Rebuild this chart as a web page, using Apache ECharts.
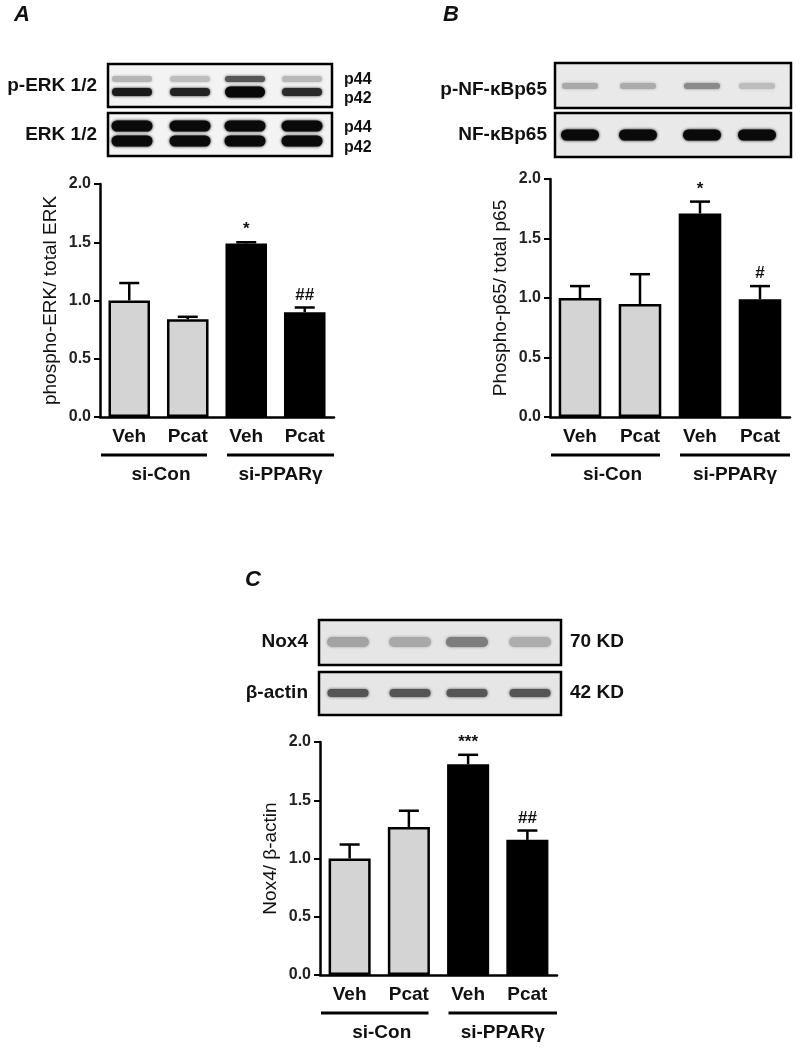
<!DOCTYPE html>
<html>
<head>
<meta charset="utf-8">
<script src="https://cdn.jsdelivr.net/npm/echarts@6/dist/echarts.min.js"></script>
<style>
html,body{margin:0;padding:0;background:#fff;}
#chart{width:800px;height:1049px;}
</style>
</head>
<body>
<div id="chart"></div>
<script>
// ---- data ----
const categories = ['Veh', 'Pcat', 'Veh', 'Pcat'];
const groups = ['si-Con', 'si-PPARγ'];

const erkMean = [1.0, 0.84, 1.49, 0.90];
const erkErr = [0.15, 0.02, 0.01, 0.04];
const erkSig = ['', '', '*', '##'];

const p65Mean = [1.0, 0.95, 1.71, 0.99];
const p65Err = [0.10, 0.25, 0.10, 0.11];
const p65Sig = ['', '', '*', '#'];

const noxMean = [1.0, 1.27, 1.81, 1.16];
const noxErr = [0.12, 0.14, 0.08, 0.08];
const noxSig = ['', '', '***', '##'];

const barColors = ['#d4d4d4', '#d4d4d4', '#000', '#000'];
const FONT = '"Liberation Sans", Arial, Helvetica, sans-serif';

const panels = [
  {grid: {left: 100, top: 184, width: 234, height: 233}, name: 'phospho-ERK/ total ERK', mean: erkMean, err: erkErr, sig: erkSig},
  {grid: {left: 550, top: 179, width: 240, height: 238}, name: 'Phospho-p65/ total p65', mean: p65Mean, err: p65Err, sig: p65Sig},
  {grid: {left: 320, top: 742, width: 237, height: 233}, name: 'Nox4/ β-actin', mean: noxMean, err: noxErr, sig: noxSig}
];

const chart = echarts.init(document.getElementById('chart'));

const grid = [], xAxis = [], yAxis = [], series = [];
panels.forEach((p, i) => {
  grid.push(p.grid);
  xAxis.push({
    type: 'category', gridIndex: i, data: categories,
    axisLine: {lineStyle: {color: '#000', width: 2.5}},
    axisTick: {alignWithLabel: true, length: 6, lineStyle: {color: '#000', width: 2}},
    axisLabel: {interval: 0, margin: 10, fontSize: 19, fontWeight: 'bold', color: '#111', fontFamily: FONT}
  });
  yAxis.push({
    type: 'value', gridIndex: i, min: 0, max: 2, interval: 0.5,
    name: p.name, nameLocation: 'middle', nameGap: 40,
    nameTextStyle: {fontSize: 19, color: '#111', fontFamily: FONT},
    axisLine: {show: true, lineStyle: {color: '#000', width: 2.5}},
    axisTick: {show: true, length: 6, lineStyle: {color: '#000', width: 2}},
    splitLine: {show: false},
    axisLabel: {margin: 9, fontSize: 16, fontWeight: 'bold', color: '#222', fontFamily: FONT,
      formatter: v => v.toFixed(1)}
  });
  series.push({
    type: 'bar', xAxisIndex: i, yAxisIndex: i, barWidth: '71%', silent: true,
    itemStyle: {borderColor: '#000', borderWidth: 2.5},
    data: p.mean.map((v, j) => ({value: v, itemStyle: {color: barColors[j]}}))
  });
  series.push({
    type: 'custom', xAxisIndex: i, yAxisIndex: i, silent: true, z: 5,
    encode: {x: 0, y: 1},
    data: p.mean.map((v, j) => [j, v + p.err[j], v]),
    renderItem: (params, api) => {
      const top = api.coord([api.value(0), api.value(1)]);
      const base = api.coord([api.value(0), api.value(2)]);
      const s = p.sig[params.dataIndex];
      return {
        type: 'group',
        children: [
          {type: 'line', shape: {x1: top[0], y1: base[1], x2: top[0], y2: top[1]}, style: {stroke: '#000', lineWidth: 2.5}},
          {type: 'line', shape: {x1: top[0] - 10, y1: top[1], x2: top[0] + 10, y2: top[1]}, style: {stroke: '#000', lineWidth: 2.5}},
          {type: 'text', style: {text: s, x: top[0], y: top[1] - 4, textAlign: 'center', textVerticalAlign: 'bottom',
            font: 'bold 17px ' + FONT, fill: '#111'}}
        ]
      };
    }
  });
});

chart.setOption({
  animation: false,
  backgroundColor: '#fff',
  textStyle: {fontFamily: FONT},
  grid, xAxis, yAxis, series
});

// ---- blots & annotations ----
const els = [];
function text(t, x, y, size, align, extra) {
  els.push({type: 'text', silent: true, style: Object.assign({text: t, x, y, font: 'bold ' + size + 'px ' + FONT,
    fill: '#111', textAlign: align, textVerticalAlign: 'middle'}, extra || {})});
}
function box(x, y, w, h, bg) {
  els.push({type: 'rect', silent: true, shape: {x, y, width: w, height: h}, style: {fill: bg, stroke: '#000', lineWidth: 2.5}});
}
function band(cx, cy, w, h, color) {
  els.push({type: 'rect', silent: true, shape: {x: cx - w / 2, y: cy - h / 2, width: w, height: h, r: h / 2},
    style: {fill: color, shadowBlur: 3, shadowColor: color}});
}

// panel letters
text('A', 22, 15, 22, 'center', {font: 'italic bold 22px ' + FONT});
text('B', 451, 15, 22, 'center', {font: 'italic bold 22px ' + FONT});
text('C', 253, 580, 22, 'center', {font: 'italic bold 22px ' + FONT});

// blot A
box(108, 64, 224, 43, '#f3f3f3');
box(108, 113, 224, 43, '#f3f3f3');
const laneA = [132, 190, 245, 302];
const p44A = ['#b5b5b5', '#bdbdbd', '#555', '#b8b8b8'];
const p42A = ['#1a1a1a', '#222', '#080808', '#2a2a2a'];
laneA.forEach((x, j) => {
  band(x, 79, 40, 6, p44A[j]);
  band(x, 92, 40, j === 2 ? 11 : 8, p42A[j]);
  band(x, 126, 41, 11, '#0a0a0a');
  band(x, 141, 41, 11, '#0a0a0a');
});
text('p-ERK 1/2', 97, 86, 19, 'right');
text('ERK 1/2', 97, 135, 19, 'right');
text('p44', 344, 80, 16, 'left');
text('p42', 344, 99, 16, 'left');
text('p44', 344, 128, 16, 'left');
text('p42', 344, 148, 16, 'left');

// blot B
box(555, 63, 236, 45, '#e9e9e9');
box(555, 113, 236, 44, '#e9e9e9');
const laneB = [580, 638, 702, 757];
const p65B = ['#a9a9a9', '#ababab', '#8a8a8a', '#bcbcbc'];
laneB.forEach((x, j) => {
  band(x, 86, 36, 6, p65B[j]);
  band(x, 135, 38, 11, '#0a0a0a');
});
text('p-NF-κBp65', 547, 90, 19, 'right');
text('NF-κBp65', 547, 135, 19, 'right');

// blot C
box(319, 620, 242, 45, '#e6e6e6');
box(319, 672, 242, 43, '#e6e6e6');
const laneC = [348, 410, 467, 530];
const noxC = ['#a3a3a3', '#a8a8a8', '#7d7d7d', '#adadad'];
laneC.forEach((x, j) => {
  band(x, 642, 42, 10, noxC[j]);
  band(x, 693, 41, 8, '#555');
});
text('Nox4', 308, 642, 19, 'right');
text('β-actin', 308, 693, 19, 'right');
text('70 KD', 570, 642, 19, 'left');
text('42 KD', 570, 693, 19, 'left');

// group lines & labels under each x axis
panels.forEach((p, i) => {
  const c = categories.map((_, j) => chart.convertToPixel({xAxisIndex: i}, j));
  const half = (c[1] - c[0]) / 2;
  const y0 = chart.convertToPixel({yAxisIndex: i}, 0);
  const left = c[0] - half, right = c[3] + half, mid = (c[1] + c[2]) / 2;
  const spans = [[left + 1, mid - 10], [mid + 10, right]];
  spans.forEach((s, g) => {
    els.push({type: 'line', silent: true, shape: {x1: s[0], y1: y0 + 38, x2: s[1], y2: y0 + 38},
      style: {stroke: '#000', lineWidth: 3}});
    text(groups[g], (s[0] + s[1]) / 2 + (g === 0 ? 7 : 0), y0 + 58, 19, 'center');
  });
});

chart.setOption({graphic: {elements: els}});
</script>
</body>
</html>
